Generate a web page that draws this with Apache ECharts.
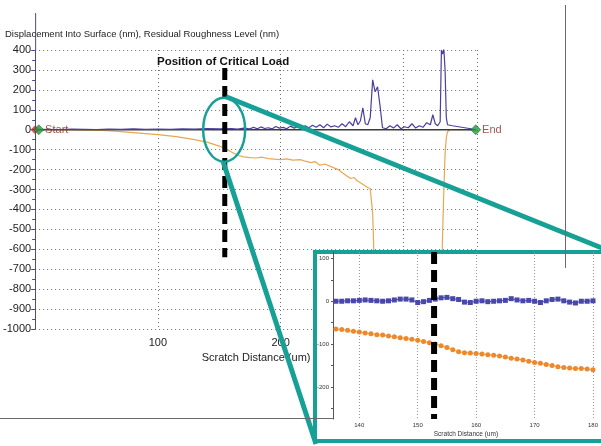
<!DOCTYPE html>
<html><head><meta charset="utf-8">
<script src="https://cdn.jsdelivr.net/npm/echarts@6/dist/echarts.min.js"></script>
<style>html,body{margin:0;padding:0;background:#fff}#c{width:601px;height:446px}</style>
</head><body><div id="c"></div>
<script>
// Full scratch: residual roughness level (nm) along scratch distance (um)
const roughX = [0,10,20,30,40,50,60,70,80,90,100,110,120,130,140,150,160,165,170,175,178,181,184,187,190,193,196,199,202,205,208,211,214,217,220,223,226,229,232,235,238,241,244,247,250,253,256,259,261,263,265,267,269,271,273,275,277,279,281,283,286,289,292,295,298,301,304,307,310,313,316,319,322,324,326,328,330,331,332,333,334,335,336,340,345,350,355,359];
const roughY = [0,2,1,3,2,1,3,2,4,2,3,2,4,3,5,4,6,3,8,4,12,5,14,6,10,4,16,8,12,5,18,8,15,6,20,10,22,12,25,10,28,14,20,12,30,15,40,20,60,25,45,110,30,25,60,250,190,215,120,10,5,20,8,25,5,15,10,30,8,20,12,35,25,75,30,20,40,400,380,405,300,60,25,20,15,10,5,0];
// Displacement into surface (nm)
const dispX = [0,20,40,55,70,85,100,115,130,140,150,155,160,165,170,175,180,185,190,195,200,205,210,216,220,225,228,232,236,243,247,250,254,257,260,262,266,269,271,273,274,275,276,277,278,330,331,332,333,334,335,336,338,359];
const dispY = [0,0,-2,-4,-10,-17,-25,-35,-50,-62,-82,-95,-112,-128,-136,-140,-142,-138,-145,-148,-150,-146,-153,-150,-158,-165,-160,-178,-172,-190,-200,-215,-232,-245,-240,-255,-270,-282,-290,-295,-300,-420,-620,-820,-1000,-1000,-760,-520,-300,-120,-40,-10,0,0];

// Close-up window 136–180 um
const zoomX = [136,137,138,139,140,141,142,143,144,145,146,147,148,149,150,151,152,153,154,155,156,157,158,159,160,161,162,163,164,165,166,167,168,169,170,171,172,173,174,175,176,177,178,179,180];
const zoomRough = [0,0,1,1,2,3,2,1,0,1,3,5,5,3,-3,-1,2,5,8,9,6,4,-2,-3,0,1,-1,0,1,2,6,3,1,2,0,-3,1,4,5,1,-2,-4,0,0,1];
const zoomDisp = [-65,-66,-68,-70,-72,-74,-76,-78,-79,-81,-83,-85,-87,-89,-91,-94,-97,-100,-104,-108,-113,-118,-120,-121,-122,-123,-125,-126,-128,-130,-133,-135,-137,-140,-143,-145,-148,-150,-153,-155,-156,-157,-157,-158,-160];

const criticalMain = 154.5;
const criticalZoom = 152.8;
const startPos = 0, endPos = 359;

const mainXTicks = [100, 200, 300];
const mainYTicks = [-1000,-900,-800,-700,-600,-500,-400,-300,-200,-100,0,100,200,300,400];
const zoomXTicks = [140, 150, 160, 170, 180];
const zoomYLabels = [100, 0, -100, -200];
const zoomYTicks = [100, 50, 0, -50, -100, -150, -200, -250];

const FONT = '"Liberation Sans", Arial, sans-serif';
const TEAL = '#17a096';
const zip = (xs, ys) => xs.map((x, i) => [x, ys[i]]);
const plain = v => String(v);

const chart = echarts.init(document.getElementById('c'));

const option = {
  animation: false,
  backgroundColor: '#fff',
  title: [
    { text: 'Displacement Into Surface (nm), Residual Roughness Level (nm)', left: 5, top: 29, padding: 0,
      textStyle: { fontFamily: FONT, fontSize: 9.5, fontWeight: 'normal', color: '#222' } },
    { text: 'Position of Critical Load', left: 157, top: 56, padding: 0,
      textStyle: { fontFamily: FONT, fontSize: 11.5, fontWeight: 'bold', color: '#111' } }
  ],
  grid: [
    { left: 34, top: 50, right: 124, bottom: 117 },
    { left: 333, top: 252, right: -5, bottom: 27 }
  ],
  xAxis: [
    { gridIndex: 0, type: 'value', min: 0, max: 360, interval: mainXTicks[1] - mainXTicks[0],
      axisLine: { show: false }, axisTick: { show: false },
      axisLabel: { showMinLabel: false, formatter: plain, color: '#222', fontSize: 11, fontFamily: FONT, margin: 8 },
      splitLine: { show: true, lineStyle: { color: '#6a6a6a', type: [1, 3], width: 1 } },
      name: 'Scratch Distance (um)', nameLocation: 'middle', nameGap: 23,
      nameTextStyle: { color: '#222', fontSize: 11, fontFamily: FONT } },
    { gridIndex: 1, type: 'value', min: 135.5, max: 181, z: 20,
      axisLine: { show: false },
      axisTick: { show: false, customValues: zoomXTicks },
      axisLabel: { customValues: zoomXTicks, formatter: plain, color: '#333', fontSize: 6, fontFamily: FONT, margin: 3 },
      splitLine: { show: true, lineStyle: { color: '#999', type: [1, 2], width: 1 } },
      name: 'Scratch Distance (um)', nameLocation: 'middle', nameGap: 12,
      nameTextStyle: { color: '#333', fontSize: 6.5, fontFamily: FONT } }
  ],
  yAxis: [
    { gridIndex: 0, type: 'value', min: mainYTicks[0], max: mainYTicks[mainYTicks.length - 1],
      interval: mainYTicks[1] - mainYTicks[0],
      axisLine: { show: true, lineStyle: { color: '#4c4c8c', width: 1 } },
      axisTick: { show: true, length: 4, lineStyle: { color: '#4c4c8c' } },
      minorTick: { show: true, splitNumber: 2, length: 3, lineStyle: { color: '#4c4c8c' } },
      axisLabel: { formatter: plain, color: '#222', fontSize: 11, fontFamily: FONT, margin: 4 },
      splitLine: { show: true, lineStyle: { color: '#6a6a6a', type: [1, 3], width: 1 } } },
    { gridIndex: 1, type: 'value', min: -275, max: 115, z: 20,
      axisLine: { show: true, lineStyle: { color: '#555', width: 1 } },
      axisTick: { show: true, length: 2, customValues: zoomYTicks, lineStyle: { color: '#555' } },
      axisLabel: { customValues: zoomYLabels, formatter: plain, color: '#333', fontSize: 6, fontFamily: FONT, margin: 4 },
      splitLine: { show: false } }
  ],
  series: [
    // baseline along the surface
    { type: 'line', xAxisIndex: 0, yAxisIndex: 0, data: [[startPos, 0], [endPos, 0]],
      symbol: 'none', lineStyle: { color: '#3a3a3a', width: 1.4 }, z: 3, silent: true },
    { name: 'Displacement', type: 'line', xAxisIndex: 0, yAxisIndex: 0, data: zip(dispX, dispY),
      symbol: 'none', lineStyle: { color: '#e6a850', width: 1.2 }, z: 2 },
    { name: 'Residual Roughness', type: 'line', xAxisIndex: 0, yAxisIndex: 0, data: zip(roughX, roughY),
      symbol: 'none', lineStyle: { color: '#4a3f9e', width: 1.2 }, z: 4 },
    // critical load position
    { type: 'line', xAxisIndex: 0, yAxisIndex: 0, data: [[criticalMain, 310], [criticalMain, -640]],
      symbol: 'none', lineStyle: { color: '#000', width: 5, type: [12, 6] }, z: 7, silent: true },
    // start / end markers
    { type: 'scatter', xAxisIndex: 0, yAxisIndex: 0, symbol: 'diamond', symbolSize: 9, z: 8,
      data: [{ value: [startPos, 0], itemStyle: { color: '#c8262e' } }] },
    { type: 'scatter', xAxisIndex: 0, yAxisIndex: 0, symbol: 'diamond', symbolSize: 10, z: 8,
      itemStyle: { color: '#1f9a3c', borderColor: '#0d5a20', borderWidth: 0.6 },
      label: { show: true, position: 'right', distance: 1, fontFamily: FONT, fontSize: 11, color: '#8a2a22',
               formatter: p => p.data.tag },
      data: [{ value: [startPos + 3, 0], tag: 'Start' }, { value: [endPos, 0], tag: 'End' }] },

    // close-up grid lines
    { type: 'line', xAxisIndex: 1, yAxisIndex: 1, data: [], z: 19, silent: true,
      markLine: { silent: true, symbol: 'none', label: { show: false },
        data: [
          { yAxis: 100, lineStyle: { color: '#999', type: [1, 2], width: 1 } },
          { yAxis: -100, lineStyle: { color: '#999', type: [1, 2], width: 1 } },
          { yAxis: -200, lineStyle: { color: '#999', type: [1, 2], width: 1 } },
          { yAxis: 0, lineStyle: { color: '#9a9a9a', type: 'solid', width: 1.5 } }
        ] } },
    { type: 'line', xAxisIndex: 1, yAxisIndex: 1, data: zip(zoomX, zoomRough), z: 21,
      symbol: 'rect', symbolSize: 5, itemStyle: { color: '#4848ac' },
      lineStyle: { color: '#4848ac', width: 1 } },
    { type: 'line', xAxisIndex: 1, yAxisIndex: 1, data: zip(zoomX, zoomDisp), z: 21,
      symbol: 'circle', symbolSize: 5, itemStyle: { color: '#f0882a' },
      lineStyle: { color: '#f0a050', width: 1 } },
    { type: 'line', xAxisIndex: 1, yAxisIndex: 1, data: [[criticalZoom, 115], [criticalZoom, -275]],
      symbol: 'none', lineStyle: { color: '#000', width: 6, type: [12, 6] }, z: 22, silent: true }
  ]
};
chart.setOption(option);

// annotation overlay: circle on the critical position, callout lines, close-up frame
const c = chart.convertToPixel({ gridIndex: 0 }, [criticalMain - 0.5, 0]);
const axTop = chart.convertToPixel({ gridIndex: 0 }, [0, 400]);
const boxL = 315, boxT = 252, boxR = 620, boxB = 441;
chart.setOption({
  graphic: [
    { type: 'rect', z: 10, shape: { x: boxL, y: boxT, width: boxR - boxL, height: boxB - boxT },
      style: { fill: '#fff', stroke: TEAL, lineWidth: 4 } },
    { type: 'ellipse', z: 9, shape: { cx: c[0], cy: c[1], rx: 21, ry: 32 },
      style: { fill: null, stroke: TEAL, lineWidth: 2.5 } },
    { type: 'line', z: 9, shape: { x1: c[0] + 2, y1: c[1] - 33, x2: 612, y2: 252 },
      style: { stroke: TEAL, lineWidth: 5 } },
    { type: 'line', z: 9, shape: { x1: c[0] - 1, y1: c[1] + 32, x2: 316, y2: 444 },
      style: { stroke: TEAL, lineWidth: 5 } },
    { type: 'line', z: 1, shape: { x1: axTop[0] + 0.5, y1: 13, x2: axTop[0] + 0.5, y2: axTop[1] },
      style: { stroke: '#4c4c8c', lineWidth: 1 } },
    // window frame edges
    { type: 'line', z: 30, shape: { x1: 565.5, y1: 5, x2: 565.5, y2: 268 },
      style: { stroke: '#6a6a6a', lineWidth: 1 } },
    { type: 'line', z: 30, shape: { x1: 0, y1: 418.5, x2: 333, y2: 418.5 },
      style: { stroke: '#6a6a6a', lineWidth: 1 } }
  ]
});
</script>
</body></html>
